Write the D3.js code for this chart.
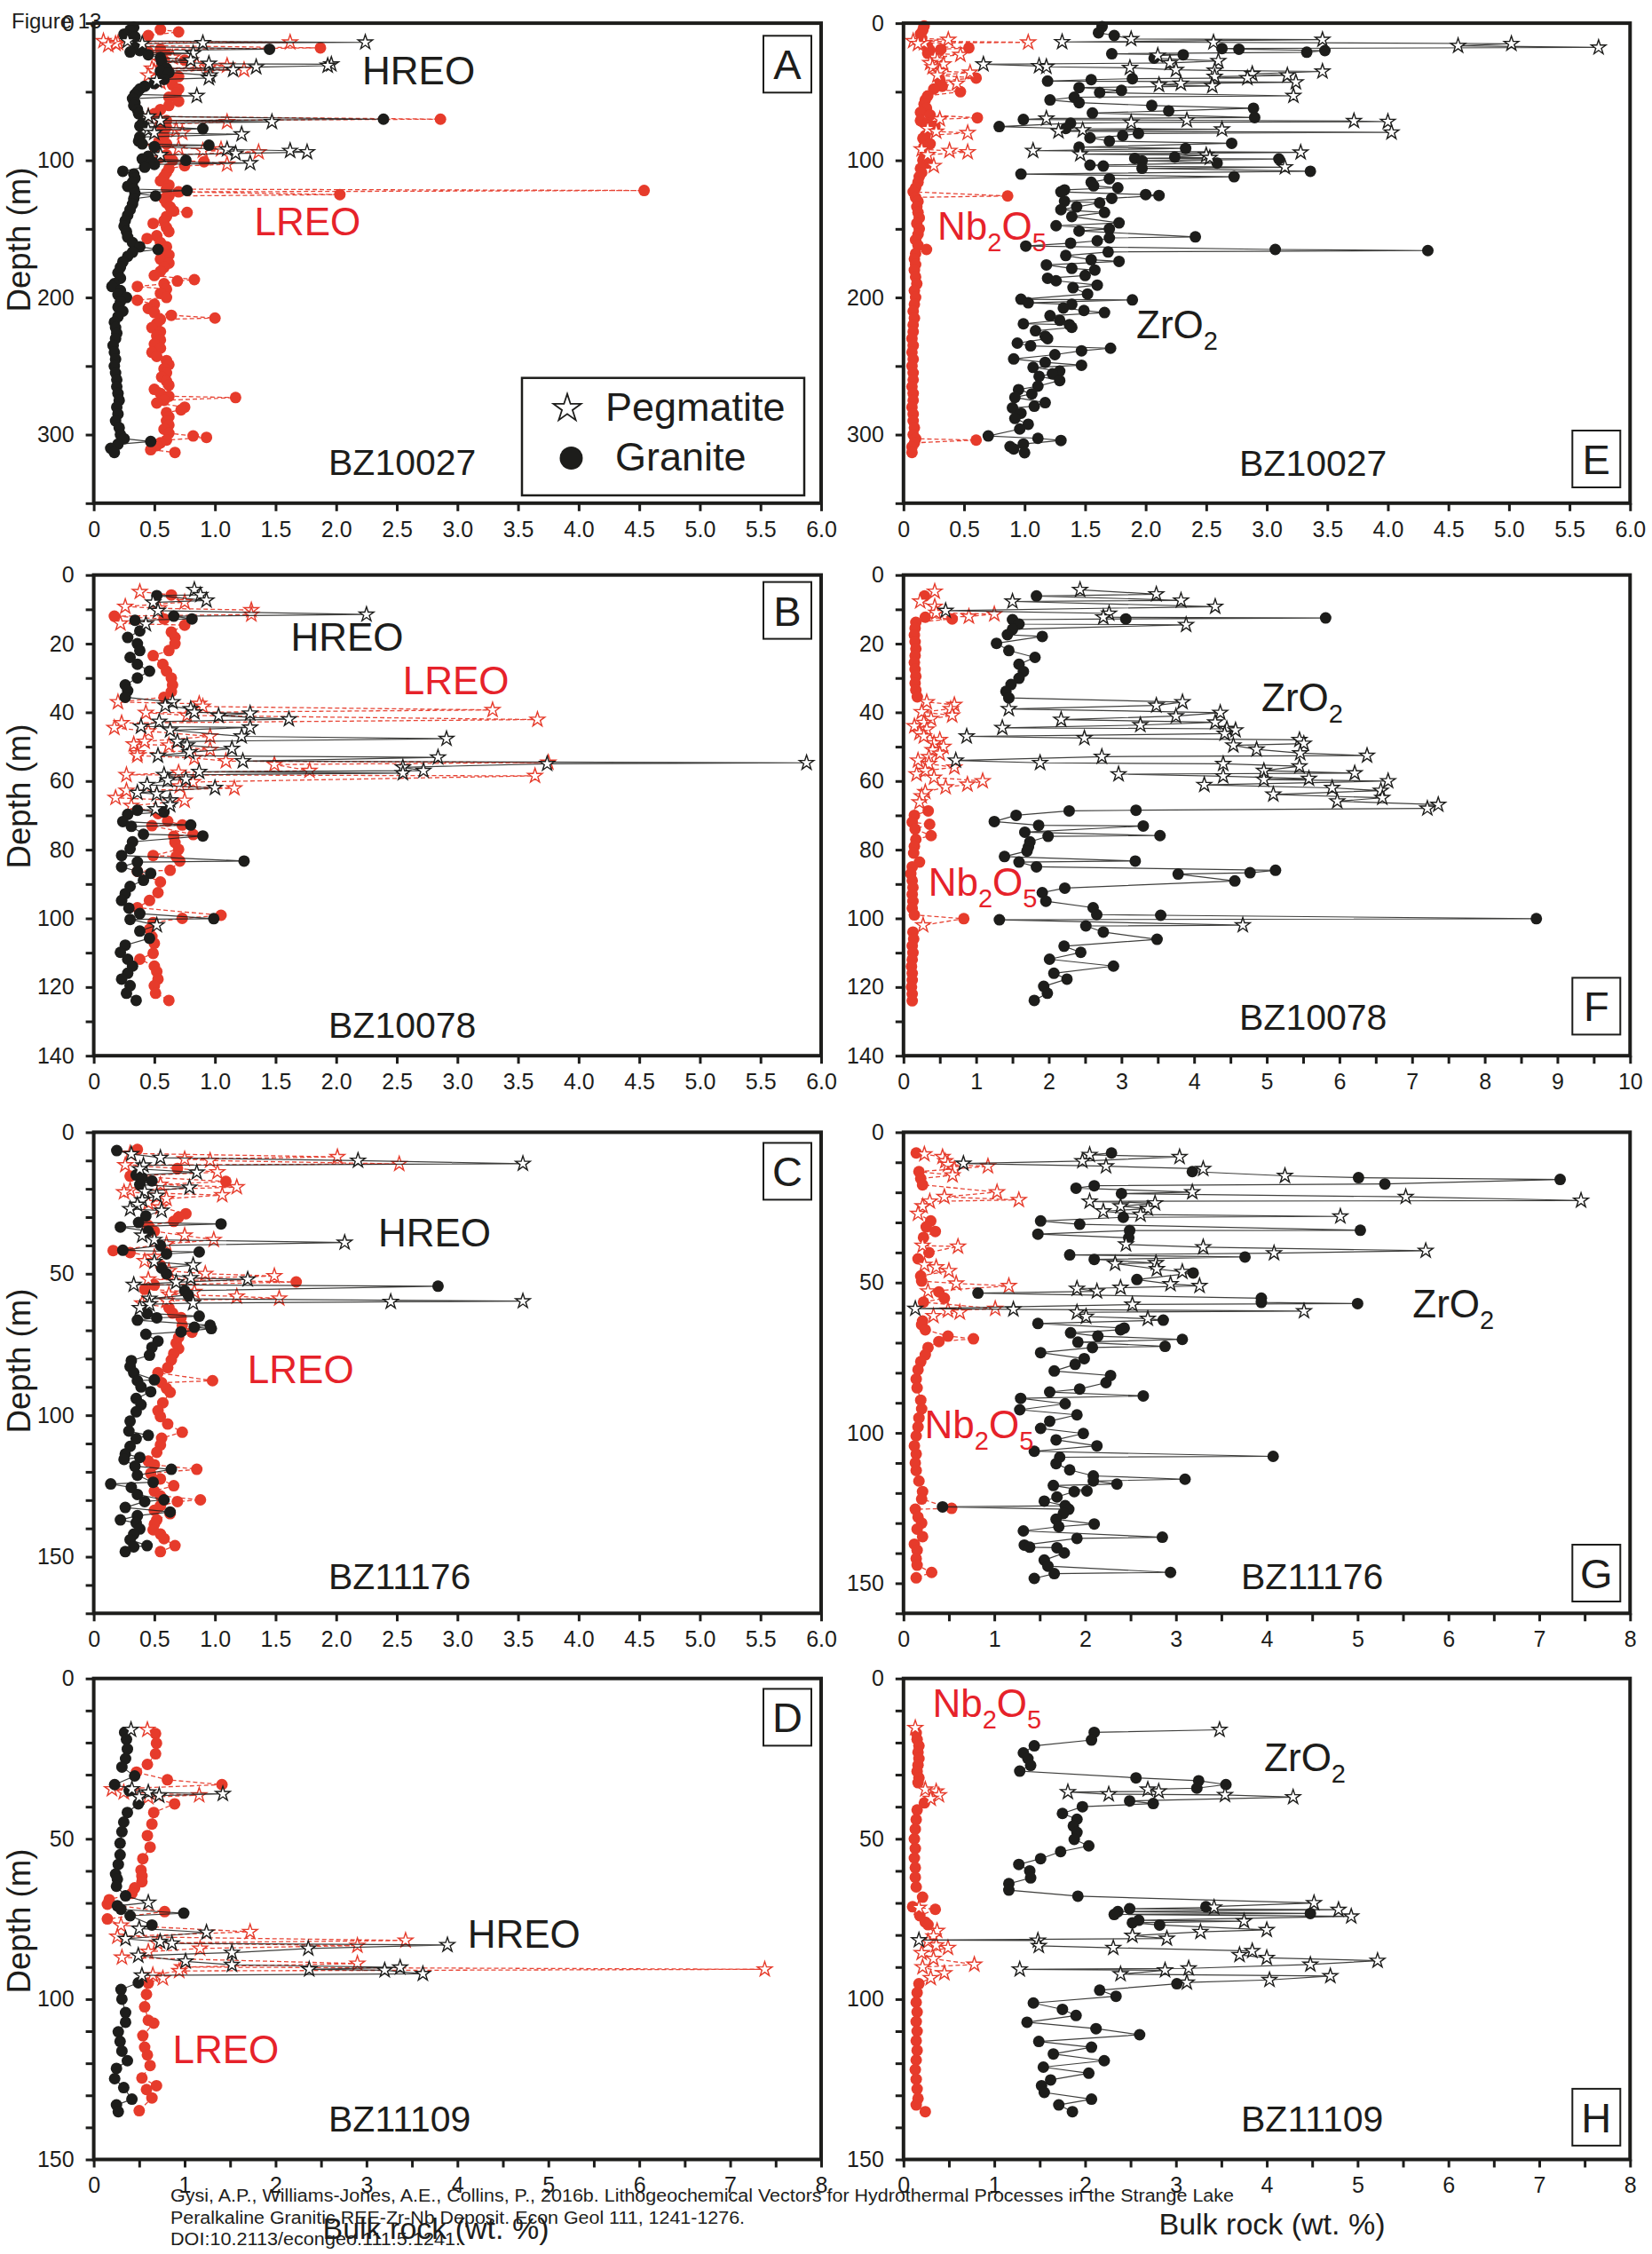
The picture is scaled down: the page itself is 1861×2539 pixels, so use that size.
<!DOCTYPE html>
<html>
<head>
<meta charset="utf-8">
<script src="https://cdn.jsdelivr.net/npm/d3@7"></script>
<style>
  html, body { margin: 0; padding: 0; background: #fff; }
  svg { display: block; font-family: "Liberation Sans", Arial, sans-serif; }
</style>
</head>
<body>
<script>
// Each record: [depth (m), bulk rock (wt.%), rock type]  'g' = granite, 'p' = pegmatite

// ---- BZ10027 ----
const hreoBZ10027 = [
  [3,0.33,'g'],[5,0.30,'g'],[8,0.25,'g'],[10,0.34,'g'],[13,0.28,'p'],[14,2.24,'p'],[14.5,0.9,'p'],[15,0.40,'p'],[17,0.35,'g'],[19,1.45,'g'],
  [20,0.38,'g'],[21,0.30,'g'],[22,0.82,'p'],[23,0.45,'g'],[25,0.55,'g'],[27,0.80,'p'],[28,0.56,'g'],[29.5,0.95,'p'],[30,1.96,'p'],[31,1.93,'p'],
  [32,1.34,'p'],[33,0.60,'g'],[34,1.15,'p'],[35,0.55,'g'],[36,0.62,'g'],[38,0.96,'p'],[40,0.95,'p'],[41,0.58,'g'],[42,0.52,'p'],[44,0.50,'g'],
  [46,0.42,'g'],[48,0.38,'g'],[50,0.36,'g'],[52,0.34,'g'],[53,0.85,'p'],[55,0.32,'g'],[58,0.34,'g'],[60,0.33,'g'],[63,0.36,'g'],[66,0.37,'g'],
  [68,0.45,'p'],[70,2.39,'g'],[71,0.55,'p'],[72,1.47,'p'],[73,0.40,'g'],[75,0.38,'g'],[77,0.90,'g'],[78,0.45,'p'],[80,0.50,'p'],[81,1.22,'p'],
  [83,0.38,'g'],[86,0.37,'g'],[88,0.40,'g'],[89,0.95,'g'],[90,0.50,'g'],[92,1.10,'p'],[93,1.62,'p'],[94,1.76,'p'],[95,1.17,'p'],[96,0.55,'p'],
  [97,0.45,'g'],[99,0.40,'g'],[100,0.76,'g'],[101,0.48,'g'],[102,1.29,'p'],[103,0.50,'g'],[105,0.42,'g'],[108,0.24,'g'],[110,0.33,'g'],[113,0.34,'g'],
  [116,0.32,'g'],[119,0.28,'g'],[121,0.33,'g'],[122,0.77,'g'],[124,0.34,'g'],[126,0.51,'g'],[128,0.33,'g'],[132,0.32,'g'],[136,0.30,'g'],[140,0.28,'g'],
  [144,0.26,'g'],[148,0.25,'g'],[152,0.27,'g'],[156,0.28,'g'],[160,0.32,'g'],[163,0.38,'g'],[165,0.53,'g'],[167,0.32,'g'],[170,0.28,'g'],[174,0.24,'g'],
  [178,0.22,'g'],[182,0.20,'g'],[186,0.22,'g'],[190,0.17,'g'],[192,0.15,'g'],[195,0.22,'g'],[198,0.20,'g'],[200,0.27,'g'],[203,0.22,'g'],[207,0.20,'g'],
  [210,0.24,'g'],[214,0.20,'g'],[218,0.17,'g'],[222,0.18,'g'],[226,0.19,'g'],[230,0.18,'g'],[235,0.16,'g'],[240,0.17,'g'],[245,0.18,'g'],[250,0.17,'g'],
  [255,0.18,'g'],[260,0.19,'g'],[265,0.19,'g'],[270,0.20,'g'],[275,0.21,'g'],[280,0.19,'g'],[285,0.20,'g'],[290,0.18,'g'],[295,0.21,'g'],[300,0.22,'g'],
  [303,0.25,'g'],[305,0.47,'g'],[307,0.20,'g'],[310,0.14,'g'],[313,0.17,'g']
];
const lreoBZ10027 = [
  [4.6,0.55,'g'],[6.4,0.70,'g'],[9,0.45,'g'],[13,0.08,'p'],[14,1.62,'p'],[14.5,0.20,'p'],[15,0.18,'p'],[16,0.12,'p'],[18,1.87,'g'],[19,0.55,'g'],
  [21,0.45,'g'],[23,0.60,'g'],[25,0.65,'p'],[27,0.75,'g'],[28,0.55,'p'],[30,0.85,'p'],[31,1.10,'p'],[32,0.95,'p'],[33,0.48,'p'],[34,1.24,'p'],
  [35,0.50,'p'],[37,0.60,'g'],[38,0.45,'p'],[39,0.70,'g'],[41,0.62,'g'],[43,0.55,'p'],[45,0.65,'g'],[48,0.70,'g'],[51,0.68,'g'],[54,0.62,'g'],
  [57,0.70,'g'],[60,0.62,'g'],[63,0.55,'g'],[66,0.50,'g'],[68,0.45,'p'],[70,2.86,'g'],[71,0.60,'g'],[72,1.10,'p'],[74,0.55,'g'],[76,0.60,'g'],
  [78,0.68,'p'],[80,0.73,'p'],[82,0.58,'g'],[85,0.55,'g'],[88,0.60,'g'],[90,0.50,'p'],[91,0.70,'p'],[92,1.05,'p'],[93,0.90,'p'],[94,1.36,'p'],
  [96,0.60,'g'],[98,0.55,'g'],[100,0.65,'g'],[101,0.91,'g'],[103,1.10,'p'],[104,0.75,'g'],[106,0.62,'g'],[109,0.60,'g'],[112,0.58,'g'],[115,0.55,'g'],
  [118,0.62,'g'],[121,0.60,'g'],[122,4.54,'g'],[123,0.70,'g'],[125,2.03,'g'],[126,0.62,'g'],[128,0.58,'g'],[131,0.60,'g'],[134,0.63,'g'],[137,0.66,'g'],
  [138,0.77,'g'],[141,0.60,'g'],[144,0.58,'g'],[146,0.49,'g'],[149,0.60,'g'],[152,0.62,'g'],[155,0.52,'g'],[157,0.44,'g'],[160,0.55,'g'],[163,0.60,'g'],
  [166,0.58,'g'],[169,0.62,'g'],[172,0.55,'g'],[175,0.62,'g'],[178,0.58,'g'],[181,0.55,'g'],[184,0.50,'g'],[187,0.83,'g'],[188,0.69,'g'],[190,0.58,'g'],
  [192,0.36,'g'],[194,0.60,'g'],[197,0.55,'g'],[200,0.60,'g'],[202,0.36,'g'],[205,0.50,'g'],[208,0.45,'g'],[211,0.50,'g'],[213,0.64,'g'],[215,1.00,'g'],
  [216,0.55,'g'],[219,0.52,'g'],[222,0.48,'g'],[225,0.55,'g'],[228,0.52,'g'],[231,0.55,'g'],[234,0.50,'g'],[237,0.55,'g'],[240,0.48,'g'],[243,0.52,'g'],
  [246,0.60,'g'],[249,0.62,'g'],[252,0.58,'g'],[255,0.60,'g'],[258,0.56,'g'],[261,0.60,'g'],[264,0.62,'g'],[267,0.50,'g'],[270,0.55,'g'],[272,0.62,'g'],
  [273,1.17,'g'],[275,0.58,'g'],[277,0.52,'g'],[280,0.75,'g'],[282,0.72,'g'],[284,0.60,'g'],[287,0.62,'g'],[290,0.60,'g'],[293,0.62,'g'],[296,0.58,'g'],
  [299,0.62,'g'],[301,0.82,'g'],[302,0.93,'g'],[304,0.60,'g'],[306,0.55,'g'],[308,0.52,'g'],[311,0.47,'g'],[313,0.67,'g']
];
const zrBZ10027 = [
  [2.6,1.64,'g'],[7,1.61,'g'],[9,1.74,'g'],[11.5,1.88,'p'],[12,3.46,'p'],[13.7,1.31,'p'],[14,2.56,'p'],[15,5.02,'p'],[16.5,4.58,'p'],[17.7,5.74,'p'],
  [18.5,2.63,'g'],[19,2.77,'g'],[20,3.48,'g'],[21.2,3.33,'g'],[22.3,1.72,'g'],[23,2.31,'g'],[23.6,2.10,'p'],[25.5,2.07,'g'],[27.5,2.60,'p'],[29,2.20,'p'],
  [30,0.66,'p'],[31.2,1.12,'p'],[31.8,1.18,'p'],[32.5,1.87,'p'],[34,2.25,'p'],[34.5,2.57,'p'],[35.2,3.46,'p'],[37,2.88,'p'],[38,3.17,'p'],[39,2.57,'p'],
  [40,2.84,'p'],[40.5,1.89,'g'],[41.2,1.55,'g'],[42.2,1.19,'g'],[43,3.24,'p'],[44,2.29,'p'],[45,2.11,'p'],[45.8,2.55,'p'],[47,1.45,'g'],[49,1.80,'g'],
  [50.6,1.62,'g'],[53,3.22,'p'],[54,1.41,'g'],[56,1.21,'g'],[58,1.45,'g'],[60,2.05,'g'],[62,2.89,'g'],[64,2.19,'g'],[65.5,1.56,'g'],[68.8,2.90,'g'],
  [69.5,1.18,'p'],[70.2,0.99,'g'],[70.8,2.34,'p'],[71.3,3.72,'p'],[71.8,4.00,'p'],[72.4,1.88,'p'],[73,1.38,'g'],[75.4,0.79,'g'],[76.8,1.34,'g'],[77.4,2.63,'p'],
  [78,1.48,'p'],[78.8,1.28,'p'],[79.6,4.03,'p'],[80.4,1.94,'g'],[82,1.81,'g'],[83.6,1.54,'g'],[86,1.70,'g'],[87.6,2.71,'g'],[90.4,1.45,'g'],[91.3,2.33,'g'],
  [93,1.07,'p'],[94.2,3.28,'p'],[95.5,1.46,'p'],[96.2,2.50,'p'],[97.6,2.24,'g'],[98.1,2.53,'p'],[98.6,1.91,'g'],[99,3.10,'g'],[100.4,1.97,'g'],[102,2.59,'g'],
  [103.5,1.54,'g'],[104.2,1.65,'g'],[105,3.15,'p'],[105.8,1.97,'g'],[108,3.36,'g'],[110,0.97,'g'],[112,2.73,'g'],[113.5,1.70,'g'],[116,1.55,'g'],[118.6,1.57,'g'],
  [120,1.77,'g'],[121.6,1.33,'g'],[123,1.30,'g'],[125,2.00,'g'],[125.6,2.11,'g'],[127.7,1.72,'g'],[129.8,1.33,'g'],[131,1.62,'g'],[134,1.43,'g'],[136,1.30,'g'],
  [138,1.66,'g'],[141,1.39,'g'],[145.6,1.78,'g'],[147.7,1.26,'g'],[150,1.70,'g'],[151.5,1.45,'g'],[155.8,2.41,'g'],[156.6,1.70,'g'],[158.7,1.60,'g'],[160.4,1.38,'g'],
  [162.5,1.01,'g'],[165,3.07,'g'],[165.8,4.33,'g'],[166.8,1.69,'g'],[169.4,1.34,'g'],[172.5,1.55,'g'],[173.7,1.78,'g'],[176.3,1.18,'g'],[178.8,1.39,'g'],[180,1.58,'g'],
  [184,1.50,'g'],[186,1.19,'g'],[187.8,1.26,'g'],[191,1.60,'g'],[192.9,1.40,'g'],[197.5,1.52,'g'],[201.3,0.97,'g'],[201.8,1.89,'g'],[203.9,1.03,'g'],[205,1.39,'g'],
  [207.7,1.32,'g'],[209.5,1.49,'g'],[211,1.66,'g'],[213.3,1.21,'g'],[216.7,1.29,'g'],[219.2,0.99,'g'],[219.8,1.37,'g'],[221.8,1.39,'g'],[224.3,1.09,'g'],[228.2,1.17,'g'],
  [230,1.19,'g'],[233.3,0.94,'g'],[235.3,1.05,'g'],[237,1.71,'g'],[238.9,1.47,'g'],[241.7,1.25,'g'],[244.8,0.91,'g'],[247.3,1.17,'g'],[249.4,1.47,'g'],[251,1.07,'g'],
  [253.7,1.29,'g'],[255.7,1.23,'g'],[257.5,1.12,'g'],[260.6,1.29,'g'],[264.7,1.11,'g'],[267.2,0.95,'g'],[270.3,1.06,'g'],[272.9,0.92,'g'],[276.7,1.17,'g'],[279.3,1.08,'g'],
  [280.5,0.90,'g'],[284.4,0.97,'g'],[288.2,0.92,'g'],[292.5,1.03,'g'],[295.9,0.96,'g'],[301,0.70,'g'],[302.7,1.11,'g'],[304.3,1.30,'g'],[306.9,0.99,'g'],[308.7,0.88,'g'],
  [310.5,0.91,'g'],[313.2,1.00,'g']
];
const nbBZ10027 = [
  [2,0.17,'g'],[5,0.16,'g'],[8,0.14,'g'],[11,0.15,'g'],[12,0.37,'p'],[13,0.08,'p'],[14,1.03,'p'],[14.5,0.17,'p'],[15,0.12,'p'],[17,0.20,'g'],
  [18,0.54,'g'],[19,0.31,'g'],[20,0.22,'g'],[22,0.20,'g'],[23,0.47,'p'],[25,0.26,'p'],[27,0.28,'p'],[29,0.22,'p'],[30,0.33,'p'],[32,0.24,'p'],
  [35,0.30,'p'],[36,0.55,'p'],[38,0.28,'p'],[40,0.60,'g'],[42,0.30,'g'],[44,0.44,'p'],[46,0.32,'g'],[48,0.25,'g'],[50,0.47,'g'],[53,0.20,'g'],
  [56,0.18,'g'],[59,0.17,'g'],[62,0.19,'g'],[65,0.14,'g'],[67,0.22,'g'],[69,0.61,'g'],[70,0.30,'p'],[71,0.14,'g'],[73,0.20,'g'],[75,0.26,'g'],
  [77,0.20,'p'],[79,0.27,'p'],[80,0.53,'p'],[82,0.18,'g'],[84,0.16,'g'],[86,0.18,'g'],[88,0.22,'g'],[90,0.17,'g'],[92,0.15,'p'],[93,0.38,'p'],
  [94,0.53,'p'],[96,0.20,'p'],[98,0.17,'g'],[100,0.16,'g'],[102,0.20,'g'],[104,0.25,'p'],[106,0.14,'g'],[109,0.15,'g'],[112,0.13,'g'],[116,0.12,'g'],
  [120,0.10,'g'],[123,0.08,'g'],[126,0.86,'g'],[127,0.10,'g'],[130,0.12,'g'],[134,0.11,'g'],[138,0.12,'g'],[142,0.13,'g'],[146,0.11,'g'],[150,0.13,'g'],
  [154,0.12,'g'],[158,0.10,'g'],[162,0.12,'g'],[165,0.19,'g'],[168,0.10,'g'],[172,0.09,'g'],[176,0.10,'g'],[180,0.09,'g'],[185,0.10,'g'],[190,0.11,'g'],
  [195,0.09,'g'],[200,0.10,'g'],[205,0.09,'g'],[210,0.08,'g'],[215,0.09,'g'],[220,0.08,'g'],[225,0.08,'g'],[230,0.07,'g'],[235,0.08,'g'],[240,0.07,'g'],
  [245,0.08,'g'],[250,0.07,'g'],[255,0.08,'g'],[260,0.08,'g'],[265,0.07,'g'],[270,0.08,'g'],[275,0.08,'g'],[280,0.07,'g'],[285,0.08,'g'],[290,0.08,'g'],
  [295,0.09,'g'],[300,0.08,'g'],[303,0.10,'g'],[304,0.60,'g'],[306,0.09,'g'],[309,0.07,'g'],[313,0.07,'g']
];

// ---- BZ10078 ----
const hreoBZ10078 = [
  [4.3,0.83,'p'],[5.8,0.88,'p'],[6,0.52,'g'],[7.4,0.93,'p'],[8,0.49,'p'],[10.4,0.53,'p'],[11.5,2.25,'p'],[12,0.66,'g'],[12.8,0.81,'g'],[13.2,0.34,'g'],
  [14.3,0.43,'p'],[16.3,0.38,'g'],[18.2,0.28,'g'],[20,0.36,'g'],[22,0.38,'g'],[24,0.30,'g'],[26,0.36,'g'],[28,0.46,'g'],[30,0.36,'g'],[32,0.26,'g'],
  [33.7,0.28,'g'],[35.6,0.26,'g'],[37,0.65,'p'],[38,0.59,'p'],[39,0.80,'p'],[40,0.83,'p'],[40.3,1.29,'p'],[41,1.03,'p'],[42,1.61,'p'],[42.7,0.54,'p'],
  [44.1,0.39,'p'],[44.4,1.29,'p'],[45.2,0.63,'p'],[47,1.22,'p'],[47.7,2.91,'p'],[48.5,0.69,'p'],[49.6,0.77,'p'],[50.6,1.14,'p'],[51.6,0.79,'p'],[52.6,0.53,'p'],
  [53.1,2.84,'p'],[54.2,1.23,'p'],[54.7,5.88,'p'],[55,3.74,'p'],[56,2.55,'p'],[57,2.72,'p'],[57.3,0.87,'p'],[57.7,2.55,'p'],[58.2,0.58,'p'],[59.5,0.76,'p'],
  [59.8,0.61,'p'],[61.1,0.44,'p'],[62,1.00,'p'],[63.4,0.36,'p'],[63.8,0.52,'p'],[65.6,0.63,'p'],[67,0.63,'p'],[68.2,0.51,'p'],[68.5,0.36,'g'],[69,0.58,'g'],
  [69.7,0.28,'g'],[71.8,0.24,'g'],[72.8,0.80,'g'],[73.2,0.31,'g'],[75.5,0.41,'g'],[76,0.90,'g'],[77.7,0.32,'g'],[79.7,0.30,'g'],[81.7,0.23,'g'],[83.3,1.24,'g'],
  [83.6,0.36,'g'],[85,0.23,'g'],[86.3,0.36,'g'],[86.9,0.47,'g'],[88.9,0.41,'g'],[90.7,0.30,'g'],[92.8,0.26,'g'],[94.8,0.23,'g'],[97,0.29,'g'],[98.6,0.38,'g'],
  [100.1,0.99,'g'],[100.3,0.30,'g'],[102,0.52,'p'],[103.7,0.38,'g'],[105.8,0.46,'g'],[107.8,0.26,'g'],[109.9,0.22,'g'],[111.9,0.28,'g'],[113.9,0.32,'g'],[116,0.28,'g'],
  [117.7,0.23,'g'],[119.6,0.30,'g'],[121.8,0.27,'g'],[123.9,0.35,'g']
];
const lreoBZ10078 = [
  [4.9,0.38,'p'],[5.8,0.64,'g'],[7.9,0.75,'p'],[9.2,0.26,'p'],[9.7,0.54,'p'],[10.2,1.30,'p'],[11.5,1.30,'p'],[12,0.17,'g'],[12.8,0.58,'g'],[14.1,0.22,'p'],
  [14.6,0.75,'g'],[16.6,0.64,'g'],[18.2,0.67,'g'],[20,0.67,'g'],[22,0.62,'g'],[23.5,0.49,'g'],[26,0.57,'g'],[28,0.60,'g'],[30,0.64,'g'],[32,0.65,'g'],
  [34,0.64,'g'],[35.6,0.58,'g'],[37,0.20,'p'],[37.5,0.87,'p'],[38.3,0.90,'p'],[39.3,3.29,'p'],[40.1,0.43,'p'],[40.9,0.77,'p'],[42.1,3.66,'p'],[43.1,0.23,'p'],
  [44.5,0.17,'p'],[45.5,0.45,'p'],[47,0.96,'p'],[48.5,0.42,'p'],[49.3,0.33,'p'],[49.6,0.62,'p'],[50.9,0.96,'p'],[51.9,0.36,'p'],[52.6,0.36,'p'],[53.3,0.83,'p'],
  [54.2,1.09,'p'],[54.6,3.75,'p'],[55.2,1.49,'p'],[57,1.78,'p'],[57.5,0.70,'p'],[58.2,0.27,'p'],[58.5,3.64,'p'],[60.3,0.82,'p'],[61.5,0.71,'p'],[62.1,1.16,'p'],
  [62.8,0.27,'p'],[64.9,0.18,'p'],[65.7,0.75,'p'],[67.2,0.31,'p'],[69.5,0.53,'g'],[71.7,0.61,'g'],[72.8,0.73,'g'],[73,0.48,'g'],[75.6,0.82,'g'],[76.1,0.66,'g'],
  [77.9,0.67,'g'],[79.9,0.70,'g'],[81.7,0.49,'g'],[82,0.68,'g'],[83.3,0.71,'g'],[86,0.63,'g'],[86.3,0.36,'g'],[89.4,0.55,'g'],[92.5,0.53,'g'],[94.8,0.46,'g'],
  [96.9,0.36,'g'],[99.1,1.05,'g'],[100,0.73,'g'],[101.2,0.49,'g'],[103.2,0.46,'g'],[105.3,0.48,'g'],[107.3,0.50,'g'],[110.2,0.49,'g'],[111.9,0.38,'g'],[113.9,0.50,'g'],
  [115.5,0.52,'g'],[117.7,0.53,'g'],[119.6,0.50,'g'],[121.8,0.51,'g'],[123.9,0.62,'g']
];
const zrBZ10078 = [
  [4.3,2.43,'p'],[5.6,3.48,'p'],[6.1,1.83,'g'],[7.4,3.82,'p'],[7.7,1.50,'p'],[9.2,4.29,'p'],[10.4,0.58,'p'],[11.2,2.83,'p'],[12.3,2.75,'p'],[12.5,5.81,'g'],
  [12.8,3.06,'g'],[13,1.50,'g'],[14.3,1.59,'g'],[14.5,3.89,'p'],[15.8,1.50,'g'],[17.4,1.43,'g'],[17.9,1.91,'g'],[19.9,1.28,'g'],[22,1.45,'g'],[24,1.81,'g'],
  [26,1.59,'g'],[28.1,1.65,'g'],[30.1,1.59,'g'],[31.9,1.48,'g'],[33.9,1.41,'g'],[35.8,1.45,'g'],[37,3.84,'p'],[38,3.48,'p'],[39,1.45,'p'],[40.1,4.36,'p'],
  [41.1,3.75,'p'],[42.1,2.17,'p'],[42.9,4.29,'p'],[43.7,3.26,'p'],[44.5,1.36,'p'],[44.8,4.45,'p'],[45.2,4.57,'p'],[46.2,4.42,'p'],[47,0.87,'p'],[47.5,2.49,'p'],
  [48,5.45,'p'],[49.1,5.51,'p'],[49.6,4.54,'p'],[50.8,4.86,'p'],[51.9,5.46,'p'],[52.6,6.38,'p'],[52.9,2.73,'p'],[54,0.72,'p'],[54.7,1.88,'p'],[55,4.40,'p'],
  [55.7,5.45,'p'],[57,4.96,'p'],[57.7,6.21,'p'],[58,2.96,'p'],[58.6,4.40,'p'],[59.3,5.58,'p'],[59.6,4.96,'p'],[60,6.67,'p'],[61.1,4.14,'p'],[62,5.90,'p'],
  [62.8,6.57,'p'],[63.9,5.09,'p'],[64.9,6.59,'p'],[65.9,5.97,'p'],[66.9,7.36,'p'],[68,7.21,'p'],[68.5,3.20,'g'],[68.7,2.28,'g'],[70,1.55,'g'],[71.8,1.25,'g'],
  [72.9,1.86,'g'],[73.1,3.30,'g'],[74.9,1.67,'g'],[75.9,3.53,'g'],[76.1,1.99,'g'],[77.7,1.74,'g'],[79.2,1.72,'g'],[80.4,1.70,'g'],[82,1.39,'g'],[83.3,3.19,'g'],
  [83.6,1.59,'g'],[85,1.83,'g'],[86,5.12,'g'],[86.7,4.77,'g'],[87.1,3.78,'g'],[89.1,4.56,'g'],[91.2,2.22,'g'],[92.5,1.91,'g'],[95,1.96,'g'],[96.9,2.61,'g'],
  [98.9,2.66,'g'],[99.1,3.54,'g'],[100.1,8.71,'g'],[100.4,1.32,'g'],[102,4.67,'p'],[102.2,2.51,'g'],[104,2.75,'g'],[106.1,3.49,'g'],[108.1,2.21,'g'],[109.9,2.44,'g'],
  [111.9,2.01,'g'],[113.9,2.89,'g'],[116,2.07,'g'],[117.7,2.25,'g'],[119.8,1.93,'g'],[121.8,1.98,'g'],[123.9,1.80,'g']
];
const nbBZ10078 = [
  [4.8,0.43,'p'],[6.1,0.29,'g'],[7.7,0.23,'p'],[9.2,0.43,'p'],[11,0.45,'p'],[11.4,1.25,'p'],[12.1,0.90,'p'],[12.3,0.30,'g'],[12.8,0.67,'g'],[13.8,0.17,'g'],
  [15.5,0.16,'g'],[17.5,0.15,'g'],[19.5,0.16,'g'],[21.5,0.17,'g'],[23.5,0.16,'g'],[25.5,0.15,'g'],[27.5,0.16,'g'],[29.5,0.17,'g'],[31.5,0.16,'g'],[33.5,0.17,'g'],
  [35.5,0.19,'g'],[37,0.32,'p'],[37.8,0.70,'p'],[39,0.65,'p'],[39.9,0.25,'p'],[40.9,0.67,'p'],[41.9,0.38,'p'],[43,0.28,'p'],[44,0.15,'p'],[45,0.32,'p'],
  [46,0.22,'p'],[47,0.28,'p'],[48,0.50,'p'],[49,0.42,'p'],[50,0.55,'p'],[51,0.40,'p'],[52,0.50,'p'],[53,0.35,'p'],[54,0.20,'p'],[55,0.35,'p'],
  [56,0.70,'p'],[57,0.30,'p'],[58,0.18,'p'],[59,0.42,'p'],[60,1.09,'p'],[61,0.88,'p'],[61.8,0.58,'p'],[63.2,0.30,'p'],[64.4,0.25,'p'],[66.2,0.22,'p'],
  [68.7,0.34,'g'],[70,0.15,'g'],[72,0.12,'g'],[72.6,0.36,'g'],[74,0.16,'g'],[75.9,0.38,'g'],[77,0.17,'g'],[79,0.15,'g'],[81,0.14,'g'],[83.6,0.22,'g'],
  [85,0.12,'g'],[87,0.10,'g'],[89,0.12,'g'],[91,0.13,'g'],[93,0.12,'g'],[95,0.13,'g'],[97,0.12,'g'],[99,0.15,'g'],[100.1,0.83,'g'],[102,0.27,'p'],
  [104,0.13,'g'],[106,0.14,'g'],[108,0.12,'g'],[110,0.13,'g'],[112,0.12,'g'],[114,0.11,'g'],[116,0.12,'g'],[118,0.12,'g'],[120,0.11,'g'],[122,0.12,'g'],
  [124,0.12,'g']
];

// ---- BZ11176 ----
const hreoBZ11176 = [
  [6.5,0.19,'g'],[7.7,0.31,'p'],[9,0.55,'p'],[10,2.18,'p'],[11.1,3.54,'p'],[11.7,0.41,'p'],[13,0.38,'p'],[14.2,0.85,'p'],[15.1,0.35,'g'],[16.1,0.40,'g'],
  [17.2,0.48,'g'],[18.5,0.38,'g'],[19.5,0.79,'p'],[21,0.42,'p'],[22.4,0.52,'p'],[24,0.40,'p'],[25.6,0.36,'p'],[27.1,0.30,'p'],[27.7,0.56,'p'],[29.6,0.43,'g'],
  [31.9,0.37,'g'],[32.4,1.05,'g'],[33.5,0.22,'g'],[35,0.45,'g'],[36.5,0.40,'p'],[38,0.50,'p'],[39,2.07,'p'],[40,0.55,'g'],[41.7,0.24,'g'],[42.3,0.87,'g'],
  [43,0.60,'g'],[45.8,0.50,'p'],[47,0.82,'p'],[48,0.56,'g'],[50,0.60,'g'],[51.5,0.80,'p'],[52,1.27,'p'],[53,0.68,'p'],[53.9,0.33,'p'],[54.4,2.84,'g'],
  [56,0.75,'g'],[57.5,0.78,'g'],[58.8,0.46,'p'],[59.7,3.54,'p'],[59.9,2.45,'p'],[60.4,0.82,'p'],[60.8,0.46,'p'],[62.1,0.38,'p'],[64,0.44,'g'],[65,0.87,'g'],
  [65.6,0.52,'g'],[66.4,0.36,'g'],[68.2,0.96,'g'],[68.9,0.83,'g'],[69.4,0.97,'g'],[70.5,0.72,'g'],[71.4,0.43,'g'],[73.8,0.53,'g'],[76,0.48,'g'],[78.8,0.46,'g'],
  [80.7,0.31,'g'],[82.8,0.30,'g'],[85,0.33,'g'],[87.5,0.50,'g'],[87.8,0.36,'g'],[90,0.39,'g'],[91.7,0.47,'g'],[94.1,0.35,'g'],[96.3,0.39,'g'],[98.8,0.35,'g'],
  [102.1,0.30,'g'],[105.6,0.29,'g'],[107.1,0.45,'g'],[108.3,0.35,'g'],[111,0.30,'g'],[113.7,0.26,'g'],[114.9,0.38,'g'],[115.6,0.25,'g'],[118,0.34,'g'],[119.1,0.64,'g'],
  [121.2,0.36,'g'],[123.7,0.49,'g'],[124.3,0.14,'g'],[125.5,0.31,'g'],[128,0.36,'g'],[129.9,0.58,'g'],[130.5,0.42,'g'],[132.6,0.26,'g'],[134.2,0.63,'g'],[135.5,0.36,'g'],
  [137,0.22,'g'],[138,0.35,'g'],[140.2,0.38,'g'],[142,0.33,'g'],[144,0.30,'g'],[146.1,0.44,'g'],[146.5,0.33,'g'],[148.2,0.26,'g']
];
const lreoBZ11176 = [
  [6.1,0.36,'g'],[7.5,0.30,'p'],[8.7,2.01,'p'],[9.5,0.75,'p'],[10,0.96,'p'],[11.2,2.52,'p'],[11.6,0.26,'p'],[12.8,0.69,'g'],[14.1,1.02,'p'],[15.5,0.30,'g'],
  [17.4,1.09,'g'],[18.5,0.55,'p'],[19.4,1.18,'p'],[20.5,0.30,'p'],[21.2,0.25,'p'],[22.2,1.06,'p'],[23.5,0.60,'p'],[25,0.45,'p'],[26.5,0.55,'p'],[28.8,0.76,'g'],
  [30,0.70,'g'],[31.5,0.66,'g'],[33,0.45,'g'],[35,0.50,'g'],[36.5,0.75,'p'],[38,0.99,'p'],[39.5,0.60,'p'],[41.8,0.16,'g'],[42.5,0.30,'g'],[44,0.50,'p'],
  [45.5,0.42,'p'],[47,0.55,'g'],[49,0.62,'p'],[50,0.92,'p'],[50.8,1.49,'p'],[52,0.45,'p'],[52.9,1.67,'g'],[54,0.50,'g'],[55.5,0.42,'g'],[56.4,0.83,'p'],
  [57.3,0.62,'p'],[58,1.18,'p'],[58.7,1.53,'p'],[59.5,0.60,'p'],[60.5,0.40,'p'],[62,0.62,'g'],[63.9,0.65,'g'],[65.5,0.72,'g'],[68.2,0.73,'g'],[70.7,0.81,'g'],
  [72.5,0.70,'g'],[74.5,0.68,'g'],[76.5,0.70,'g'],[78.2,0.66,'g'],[80.5,0.64,'g'],[83.2,0.61,'g'],[85,0.53,'g'],[87.8,0.98,'g'],[88.5,0.56,'g'],[90.5,0.60,'g'],
  [91.9,0.63,'g'],[95.6,0.57,'g'],[98.4,0.53,'g'],[100.5,0.55,'g'],[103.1,0.61,'g'],[106,0.73,'g'],[108.1,0.56,'g'],[110.5,0.55,'g'],[113.1,0.52,'g'],[116.2,0.45,'g'],
  [117.5,0.50,'g'],[119.1,0.85,'g'],[120.6,0.47,'g'],[122.5,0.55,'g'],[124.9,0.66,'g'],[126.8,0.50,'g'],[128.5,0.55,'g'],[129.9,0.88,'g'],[130.5,0.69,'g'],[132,0.55,'g'],
  [133.6,0.50,'g'],[134.8,0.63,'g'],[137,0.52,'g'],[138.5,0.50,'g'],[140.5,0.49,'g'],[142,0.55,'g'],[143.6,0.58,'g'],[146.1,0.67,'g'],[148.2,0.55,'g']
];
const zrBZ11176 = [
  [6.9,2.29,'g'],[7.5,2.05,'p'],[8.2,3.04,'p'],[9.6,1.97,'p'],[10.4,0.66,'p'],[11.3,2.23,'p'],[12.2,3.30,'p'],[13.1,3.18,'g'],[14.5,4.20,'p'],[15.1,5.01,'g'],
  [15.7,7.23,'g'],[17.2,5.30,'g'],[17.8,2.10,'g'],[18.6,1.90,'g'],[19.9,3.18,'p'],[20.4,2.40,'g'],[21.5,5.53,'p'],[22.7,7.46,'p'],[23,2.05,'p'],[23.6,2.77,'p'],
  [24.6,2.39,'p'],[25.4,2.69,'p'],[26.3,2.20,'p'],[27.4,2.61,'p'],[28,4.81,'p'],[28.3,2.42,'g'],[29.5,1.51,'g'],[30.6,1.94,'g'],[32.6,5.03,'g'],[32.7,2.49,'g'],
  [33.9,1.48,'g'],[35.1,2.48,'g'],[37.3,2.45,'p'],[38.2,3.30,'p'],[39.4,5.75,'p'],[40.2,4.08,'p'],[40.8,1.83,'g'],[41.5,3.76,'g'],[42.3,2.10,'g'],[43.5,2.78,'p'],
  [43.7,2.33,'p'],[45.5,2.79,'p'],[46.4,3.07,'p'],[46.8,3.19,'g'],[49,2.57,'g'],[50.5,2.94,'p'],[51.1,3.26,'p'],[51.7,2.39,'p'],[52,1.91,'p'],[52.9,2.13,'p'],
  [53.5,0.82,'g'],[55.2,3.94,'g'],[56.6,3.94,'g'],[57,5.00,'g'],[57.3,2.52,'p'],[58.7,0.13,'p'],[58.9,1.21,'p'],[59.5,4.41,'p'],[59.9,1.91,'p'],[61.3,2.01,'p'],
  [62,2.69,'p'],[62.5,2.86,'g'],[63.6,1.48,'g'],[65.1,2.43,'g'],[65.7,2.39,'g'],[66.7,1.84,'g'],[67.8,2.14,'g'],[68.9,3.07,'g'],[69.8,1.92,'g'],[71.2,2.88,'g'],
  [71.6,2.08,'g'],[73.3,1.51,'g'],[75.3,1.99,'g'],[77.2,1.89,'g'],[79.4,1.66,'g'],[80.9,2.28,'g'],[83.3,2.23,'g'],[85.4,1.94,'g'],[86.4,1.61,'g'],[87.7,2.64,'g'],
  [88.5,1.29,'g'],[90.3,1.78,'g'],[92.3,1.28,'g'],[94,1.91,'g'],[96.1,1.61,'g'],[98.5,1.51,'g'],[100.2,1.98,'g'],[102.3,1.68,'g'],[104.3,2.13,'g'],[106.1,1.44,'g'],
  [107.8,4.07,'g'],[108.1,1.72,'g'],[110.2,1.68,'g'],[112.3,1.83,'g'],[114.3,2.09,'g'],[115.4,3.10,'g'],[116,2.09,'g'],[117,2.35,'g'],[117.5,1.65,'g'],[119.3,2.02,'g'],
  [119.5,1.88,'g'],[121.3,1.69,'g'],[122.7,1.55,'g'],[124.2,1.78,'g'],[124.6,0.43,'g'],[125.4,1.82,'g'],[126.8,1.76,'g'],[128.7,1.68,'g'],[130.3,2.10,'g'],[131.2,1.71,'g'],
  [132.6,1.32,'g'],[134.7,2.85,'g'],[135.1,1.91,'g'],[137.3,1.33,'g'],[138,1.39,'g'],[138.2,1.69,'g'],[139.9,1.77,'g'],[142.3,1.55,'g'],[144.3,1.59,'g'],[146.4,2.94,'g'],
  [146.8,1.66,'g'],[148.4,1.44,'g']
];
const nbBZ11176 = [
  [6.9,0.14,'g'],[7.3,0.23,'p'],[8.2,0.43,'p'],[9.6,0.46,'p'],[10.8,0.49,'p'],[11.3,0.93,'p'],[12.2,0.56,'p'],[13.1,0.17,'g'],[14.3,0.54,'p'],[15.4,0.19,'g'],
  [17.5,0.21,'g'],[19.9,1.03,'p'],[21.5,0.45,'p'],[22.5,1.27,'p'],[23,0.29,'p'],[24.6,0.21,'p'],[27.1,0.16,'p'],[29.5,0.30,'g'],[31.5,0.25,'g'],[33,0.35,'g'],
  [35,0.22,'g'],[37.7,0.21,'p'],[38,0.60,'p'],[40,0.28,'g'],[42.1,0.16,'g'],[44.1,0.23,'p'],[44.9,0.36,'p'],[46.1,0.50,'p'],[47.8,0.19,'g'],[49.5,0.20,'g'],
  [50.3,0.58,'p'],[51.1,1.16,'p'],[52.9,0.27,'p'],[53.1,0.39,'g'],[55.2,0.45,'g'],[56.5,0.22,'g'],[58.7,1.01,'p'],[59.3,0.49,'p'],[59.9,0.62,'p'],[61.1,0.33,'p'],
  [62.8,0.21,'g'],[64,0.20,'g'],[65.7,0.24,'g'],[67.8,0.49,'g'],[68.7,0.77,'g'],[69.6,0.39,'g'],[71.6,0.27,'g'],[74,0.24,'g'],[76.3,0.19,'g'],[79,0.16,'g'],
  [82.1,0.14,'g'],[85,0.15,'g'],[89.1,0.19,'g'],[92,0.20,'g'],[95,0.17,'g'],[98,0.16,'g'],[101,0.14,'g'],[104.3,0.12,'g'],[107,0.14,'g'],[110,0.13,'g'],
  [112.5,0.14,'g'],[116,0.17,'g'],[119.5,0.21,'g'],[122,0.20,'g'],[125.1,0.53,'g'],[125.4,0.13,'g'],[128,0.16,'g'],[130,0.20,'g'],[132,0.15,'g'],[134.5,0.21,'g'],
  [137,0.12,'g'],[139,0.15,'g'],[141.8,0.14,'g'],[144,0.15,'g'],[146.4,0.31,'g'],[148.2,0.14,'g']
];

// ---- BZ11109 ----
const hreoBZ11109 = [
  [16,0.41,'p'],[16.8,0.34,'g'],[19,0.36,'g'],[22,0.37,'g'],[25,0.35,'g'],[27.6,0.31,'g'],[30.4,0.45,'g'],[33.1,0.23,'g'],[34.5,0.42,'p'],[35,0.39,'g'],
  [35.5,0.60,'p'],[36,1.42,'p'],[36.5,0.72,'p'],[37,0.50,'p'],[39.1,0.49,'g'],[41.8,0.37,'g'],[44.8,0.33,'g'],[47.8,0.31,'g'],[51.4,0.29,'g'],[55,0.29,'g'],
  [58,0.27,'g'],[61,0.24,'g'],[62.6,0.26,'g'],[64.8,0.25,'g'],[67.8,0.35,'g'],[69.9,0.60,'p'],[70.9,0.26,'g'],[72,0.30,'g'],[73.2,0.99,'g'],[74,0.40,'g'],
  [76.9,0.64,'g'],[78,0.50,'p'],[79.2,1.24,'p'],[81.2,0.35,'p'],[82.1,0.73,'p'],[82.6,0.86,'p'],[83.1,3.89,'p'],[84.2,2.36,'p'],[85.5,1.52,'p'],[86.4,0.49,'p'],
  [88.2,1.01,'p'],[89.3,1.52,'p'],[90.1,3.37,'p'],[90.7,2.37,'p'],[91,3.20,'p'],[92.1,3.62,'p'],[92.6,0.53,'p'],[94.9,0.49,'g'],[97,0.30,'g'],[100,0.31,'g'],
  [104.2,0.35,'g'],[107.2,0.35,'g'],[110.2,0.27,'g'],[113.2,0.29,'g'],[116.2,0.31,'g'],[119.2,0.37,'g'],[121.6,0.25,'g'],[124.8,0.23,'g'],[127.6,0.33,'g'],[131.2,0.42,'g'],
  [133,0.25,'g'],[135.1,0.27,'g']
];
const lreoBZ11109 = [
  [16,0.59,'p'],[17.2,0.68,'g'],[20.2,0.69,'g'],[23.5,0.68,'g'],[26.8,0.59,'g'],[29.2,0.47,'g'],[31.6,0.81,'g'],[33.1,1.41,'g'],[34.5,0.20,'p'],[35,0.42,'p'],
  [35.5,0.33,'p'],[36.4,1.16,'p'],[37,0.60,'p'],[39.1,0.89,'g'],[41.8,0.66,'g'],[45.4,0.64,'g'],[49,0.59,'g'],[52.6,0.62,'g'],[56.2,0.54,'g'],[59.8,0.52,'g'],
  [61.6,0.53,'g'],[63.4,0.53,'g'],[65.3,0.45,'g'],[67,0.42,'g'],[69,0.17,'g'],[70.4,0.15,'g'],[72.7,0.78,'g'],[75,0.15,'g'],[77,0.30,'p'],[79,1.72,'p'],
  [80.5,0.26,'p'],[81.7,3.43,'p'],[82.5,0.70,'p'],[83.3,2.90,'p'],[84.2,1.17,'p'],[85.2,0.60,'p'],[87,0.31,'p'],[88.9,2.90,'p'],[90,0.97,'p'],[90.7,7.38,'p'],
  [91.2,0.94,'p'],[92.5,0.65,'p'],[93.5,0.76,'p'],[95,0.60,'g'],[98.5,0.58,'g'],[102.4,0.56,'g'],[106.6,0.60,'g'],[107.5,0.66,'g'],[111.4,0.54,'g'],[115,0.56,'g'],
  [117.4,0.59,'g'],[120.7,0.62,'g'],[124.6,0.53,'g'],[127,0.69,'g'],[128.2,0.58,'g'],[130.8,0.64,'g'],[134.8,0.50,'g']
];
const zrBZ11109 = [
  [16,3.48,'p'],[16.8,2.10,'g'],[19.2,2.07,'g'],[21,1.44,'g'],[23.2,1.32,'g'],[25,1.37,'g'],[27.1,1.40,'g'],[28.9,1.28,'g'],[31,2.56,'g'],[31.9,3.25,'g'],
  [33.1,3.55,'g'],[34.2,3.23,'g'],[34.6,2.69,'p'],[35.2,2.81,'p'],[35.4,1.81,'p'],[36.1,2.26,'p'],[36.3,3.54,'p'],[37,4.29,'p'],[38.2,2.49,'g'],[39,2.75,'g'],
  [40,1.97,'g'],[42.1,1.75,'g'],[43.9,1.91,'g'],[46,1.87,'g'],[48,1.91,'g'],[50.2,1.88,'g'],[52.2,2.04,'g'],[54,1.73,'g'],[56.2,1.51,'g'],[58,1.27,'g'],
  [60,1.39,'g'],[62.2,1.40,'g'],[64,1.16,'g'],[66,1.16,'g'],[67.9,1.92,'g'],[70,4.52,'p'],[71.2,3.33,'g'],[71.4,3.42,'p'],[71.8,2.49,'g'],[72.1,4.79,'p'],
  [72.7,2.36,'g'],[73.3,4.48,'g'],[73.6,2.32,'g'],[74.2,4.93,'p'],[75.4,2.59,'g'],[75.7,3.75,'p'],[76.2,2.52,'g'],[76.9,2.82,'g'],[78.4,4.00,'p'],[79,3.27,'p'],
  [80.2,2.52,'p'],[81.1,2.90,'p'],[81.6,0.17,'p'],[81.7,1.48,'p'],[83.4,1.49,'p'],[84,2.31,'p'],[85,3.84,'p'],[86.2,3.70,'p'],[87.1,4.00,'p'],[88,5.22,'p'],
  [89.2,4.48,'p'],[90.4,3.14,'p'],[90.7,1.28,'p'],[91,2.88,'p'],[92.2,2.39,'p'],[92.8,4.70,'p'],[94,4.03,'p'],[94.8,3.12,'p'],[95.2,3.01,'g'],[97.2,2.16,'g'],
  [99.1,2.34,'g'],[101.2,1.43,'g'],[103.2,1.75,'g'],[105.1,1.90,'g'],[107.2,1.36,'g'],[109.2,2.12,'g'],[111.1,2.60,'g'],[113.2,1.49,'g'],[115,2.07,'g'],[117.1,1.65,'g'],
  [119.2,2.21,'g'],[121.2,1.54,'g'],[123.1,2.04,'g'],[125.2,1.62,'g'],[127,1.52,'g'],[129.1,1.55,'g'],[131.2,2.07,'g'],[133,1.71,'g'],[135.1,1.86,'g']
];
const nbBZ11109 = [
  [15.4,0.13,'p'],[17,0.14,'g'],[19,0.15,'g'],[21,0.17,'g'],[23,0.16,'g'],[25,0.17,'g'],[27,0.16,'g'],[29,0.15,'g'],[31,0.17,'g'],[32.5,0.16,'g'],
  [34.6,0.24,'p'],[35.2,0.36,'p'],[36.4,0.39,'p'],[37.5,0.30,'p'],[38.8,0.23,'g'],[41,0.15,'g'],[44,0.14,'g'],[47,0.13,'g'],[50,0.12,'g'],[53,0.13,'g'],
  [56,0.12,'g'],[59,0.13,'g'],[62,0.13,'g'],[65,0.14,'g'],[68.2,0.21,'g'],[71.2,0.10,'g'],[71.5,0.17,'p'],[72,0.35,'g'],[74,0.18,'g'],[76,0.24,'g'],
  [76.8,0.27,'g'],[78.7,0.37,'p'],[80.4,0.33,'p'],[82,0.27,'p'],[83.2,0.36,'p'],[84,0.49,'p'],[85.6,0.20,'p'],[87.4,0.33,'p'],[89.2,0.78,'p'],[90,0.21,'p'],
  [91.9,0.45,'p'],[93.4,0.30,'p'],[95.2,0.17,'g'],[98,0.15,'g'],[101,0.14,'g'],[104,0.15,'g'],[107,0.14,'g'],[110,0.15,'g'],[113,0.14,'g'],[116,0.15,'g'],
  [119,0.14,'g'],[122,0.13,'g'],[125,0.14,'g'],[128,0.15,'g'],[131,0.16,'g'],[133,0.14,'g'],[135.1,0.24,'g']
];

// Axis tick values
const ticksHalfTo6 = d3.range(0, 6.001, 0.5);
const ticksUnitTo8 = d3.range(0, 8.001, 1);
const ticksUnitTo10 = d3.range(0, 10.001, 1);
const depthTicks350 = [0, 100, 200, 300];
const depthTicks140 = [0, 20, 40, 60, 80, 100, 120, 140];
const depthTicks150 = [0, 50, 100, 150];

// Colours and layout
const INK = '#1d1d1b', RED = '#e63b2b', LABEL_RED = '#e6222a';
const COL_L = [105.6, 925], COL_R = [1017.8, 1836.3];
const ROW = { A: [26.1, 566.8], B: [647.7, 1189.2], C: [1275.4, 1817.3], D: [1890.7, 2432.5] };

const svg = d3.select('body').append('svg').attr('width', 1861).attr('height', 2539);

function fmtHalf(v) { return v === 0 ? '0' : v.toFixed(1); }

function drawSeries(g, data, x, y, color, dashed) {
  const line = d3.line().x(d => x(d[1])).y(d => y(d[0]));
  g.append('path').datum(data).attr('d', line)
    .attr('fill', 'none').attr('stroke', color)
    .attr('stroke-width', dashed ? 1.3 : 1.2)
    .attr('stroke-dasharray', dashed ? '5,3' : null)
    .attr('stroke-opacity', dashed ? 0.95 : 0.85);
  g.selectAll(null).data(data.filter(d => d[2] === 'g')).join('circle')
    .attr('cx', d => x(d[1])).attr('cy', d => y(d[0])).attr('r', 6.5)
    .attr('fill', color);
  const star = d3.symbol(d3.symbolStar, 85);
  g.selectAll(null).data(data.filter(d => d[2] === 'p')).join('path')
    .attr('d', star)
    .attr('transform', d => `translate(${x(d[1])},${y(d[0])})`)
    .attr('fill', '#fff').attr('stroke', color).attr('stroke-width', 1.4);
}

function chemLabel(g, x0, yb, parts, color) {
  const t = g.append('text').attr('x', x0).attr('y', yb).attr('fill', color)
    .attr('font-size', 44);
  let sub = false;
  parts.forEach(p => {
    const isSub = /^[0-9]$/.test(p);
    const ts = t.append('tspan').text(p);
    if (isSub) { ts.attr('font-size', 29).attr('dy', sub ? 0 : 13); sub = true; }
    else { ts.attr('dy', sub ? -13 : 0); sub = false; }
  });
}

function drawPanel(p) {
  const x = d3.scaleLinear().domain(p.xDomain).range(p.col);
  const y = d3.scaleLinear().domain(p.yDomain).range(p.row);
  const g = svg.append('g');

  drawSeries(g, p.red, x, y, RED, true);
  drawSeries(g, p.black, x, y, INK, false);

  // y axis: labelled majors plus unlabelled minors
  const yAll = d3.range(p.yDomain[0], p.yDomain[1] + 0.001, p.yMinorStep);
  const yAxis = d3.axisLeft(y).tickValues(yAll).tickSize(9).tickPadding(13)
    .tickFormat(d => p.yMajor.includes(d) ? String(d) : '');
  const ya = g.append('g').attr('transform', `translate(${p.col[0]},0)`).call(yAxis);

  const xAll = d3.range(p.xDomain[0], p.xDomain[1] + 0.001, p.xMinorStep);
  const xAxis = d3.axisBottom(x).tickValues(xAll).tickSize(9).tickPadding(11)
    .tickFormat(d => p.xMajor.some(m => Math.abs(m - d) < 1e-9) ? p.xFmt(d) : '');
  const xa = g.append('g').attr('transform', `translate(0,${p.row[1]})`).call(xAxis);

  [ya, xa].forEach(a => {
    a.select('.domain').remove();
    a.selectAll('.tick line').attr('stroke', INK).attr('stroke-width', 3);
    a.selectAll('.tick text').attr('fill', INK).attr('font-size', 25)
      .attr('font-family', '"Liberation Sans", Arial, sans-serif');
  });

  // frame
  g.append('rect').attr('x', p.col[0]).attr('y', p.row[0])
    .attr('width', p.col[1] - p.col[0]).attr('height', p.row[1] - p.row[0])
    .attr('fill', 'none').attr('stroke', INK).attr('stroke-width', 4);

  // panel letter
  const bx = p.col[1] - 65, by = p.letterY;
  g.append('rect').attr('x', bx).attr('y', by).attr('width', 54).attr('height', 64)
    .attr('fill', '#fff').attr('stroke', INK).attr('stroke-width', 2);
  g.append('text').attr('x', bx + 27).attr('y', by + 49).attr('text-anchor', 'middle')
    .attr('font-size', 47).attr('fill', INK).text(p.letter);

  // hole name
  g.append('text').attr('x', p.hole[0]).attr('y', p.hole[1]).attr('font-size', 41)
    .attr('fill', INK).text(p.holeName);

  // series names
  p.labels.forEach(l => chemLabel(g, l.x, l.y, l.parts, l.color));
}

const panels = [
  { letter: 'A', col: COL_L, row: ROW.A, xDomain: [0, 6], yDomain: [0, 350], xMinorStep: 0.5, xMajor: ticksHalfTo6, xFmt: fmtHalf,
    yMinorStep: 50, yMajor: depthTicks350, black: hreoBZ10027, red: lreoBZ10027, letterY: 40.3, holeName: 'BZ10027', hole: [370, 535],
    labels: [{ x: 408, y: 95, parts: ['HREO'], color: INK }, { x: 286.5, y: 265, parts: ['LREO'], color: LABEL_RED }] },
  { letter: 'E', col: COL_R, row: ROW.A, xDomain: [0, 6], yDomain: [0, 350], xMinorStep: 0.5, xMajor: ticksHalfTo6, xFmt: fmtHalf,
    yMinorStep: 50, yMajor: depthTicks350, black: zrBZ10027, red: nbBZ10027, letterY: 485, holeName: 'BZ10027', hole: [1396, 535.6],
    labels: [{ x: 1280, y: 381.4, parts: ['Zr', 'O', '2'], color: INK }, { x: 1056, y: 270, parts: ['Nb', '2', 'O', '5'], color: LABEL_RED }] },
  { letter: 'B', col: COL_L, row: ROW.B, xDomain: [0, 6], yDomain: [0, 140], xMinorStep: 0.5, xMajor: ticksHalfTo6, xFmt: fmtHalf,
    yMinorStep: 10, yMajor: depthTicks140, black: hreoBZ10078, red: lreoBZ10078, letterY: 655.6, holeName: 'BZ10078', hole: [370, 1169],
    labels: [{ x: 327.4, y: 733.4, parts: ['HREO'], color: INK }, { x: 453.7, y: 782, parts: ['LREO'], color: LABEL_RED }] },
  { letter: 'F', col: COL_R, row: ROW.B, xDomain: [0, 10], yDomain: [0, 140], xMinorStep: 0.5, xMajor: ticksUnitTo10, xFmt: d => String(d),
    yMinorStep: 10, yMajor: depthTicks140, black: zrBZ10078, red: nbBZ10078, letterY: 1101.4, holeName: 'BZ10078', hole: [1396, 1160],
    labels: [{ x: 1421, y: 800.6, parts: ['Zr', 'O', '2'], color: INK }, { x: 1045.7, y: 1008.5, parts: ['Nb', '2', 'O', '5'], color: LABEL_RED }] },
  { letter: 'C', col: COL_L, row: ROW.C, xDomain: [0, 6], yDomain: [0, 170], xMinorStep: 0.5, xMajor: ticksHalfTo6, xFmt: fmtHalf,
    yMinorStep: 10, yMajor: depthTicks150, black: hreoBZ11176, red: lreoBZ11176, letterY: 1287.4, holeName: 'BZ11176', hole: [370, 1790],
    labels: [{ x: 425.9, y: 1404, parts: ['HREO'], color: INK }, { x: 278.8, y: 1558.2, parts: ['LREO'], color: LABEL_RED }] },
  { letter: 'G', col: COL_R, row: ROW.C, xDomain: [0, 8], yDomain: [0, 160], xMinorStep: 0.5, xMajor: ticksUnitTo8, xFmt: d => String(d),
    yMinorStep: 10, yMajor: depthTicks150, black: zrBZ11176, red: nbBZ11176, letterY: 1740, holeName: 'BZ11176', hole: [1398, 1790],
    labels: [{ x: 1591.3, y: 1483.9, parts: ['Zr', 'O', '2'], color: INK }, { x: 1041.5, y: 1620.2, parts: ['Nb', '2', 'O', '5'], color: LABEL_RED }] },
  { letter: 'D', col: COL_L, row: ROW.D, xDomain: [0, 8], yDomain: [0, 150], xMinorStep: 0.5, xMajor: ticksUnitTo8, xFmt: d => String(d),
    yMinorStep: 10, yMajor: depthTicks150, black: hreoBZ11109, red: lreoBZ11109, letterY: 1902.4, holeName: 'BZ11109', hole: [370, 2400.5],
    labels: [{ x: 526.7, y: 2194.3, parts: ['HREO'], color: INK }, { x: 194.5, y: 2324.3, parts: ['LREO'], color: LABEL_RED }] },
  { letter: 'H', col: COL_R, row: ROW.D, xDomain: [0, 8], yDomain: [0, 150], xMinorStep: 0.5, xMajor: ticksUnitTo8, xFmt: d => String(d),
    yMinorStep: 10, yMajor: depthTicks150, black: zrBZ11109, red: nbBZ11109, letterY: 2352.9, holeName: 'BZ11109', hole: [1398, 2400.5],
    labels: [{ x: 1424.1, y: 1995.1, parts: ['Zr', 'O', '2'], color: INK }, { x: 1050.4, y: 1933.6, parts: ['Nb', '2', 'O', '5'], color: LABEL_RED }] }
];

panels.forEach(drawPanel);

// Legend (panel A)
const lg = svg.append('g');
lg.append('rect').attr('x', 588).attr('y', 425.7).attr('width', 318).attr('height', 132.3)
  .attr('fill', '#fff').attr('stroke', INK).attr('stroke-width', 2.5);
lg.append('path').attr('d', d3.symbol(d3.symbolStar, 300))
  .attr('transform', 'translate(639,460)').attr('fill', '#fff').attr('stroke', INK).attr('stroke-width', 1.8);
lg.append('text').attr('x', 682).attr('y', 474).attr('font-size', 45).attr('fill', INK).text('Pegmatite');
lg.append('circle').attr('cx', 643.5).attr('cy', 516).attr('r', 13).attr('fill', INK);
lg.append('text').attr('x', 693).attr('y', 530).attr('font-size', 45).attr('fill', INK).text('Granite');

// Axis titles
[[34, 270], [34, 897], [34, 1533], [34, 2164]].forEach(([tx, ty]) => {
  svg.append('text').attr('transform', `translate(${tx},${ty}) rotate(-90)`)
    .attr('text-anchor', 'middle').attr('font-size', 36).attr('fill', INK)
    .attr('textLength', 163).attr('lengthAdjust', 'spacingAndGlyphs').text('Depth (m)');
});
[[491, 2522], [1433, 2517]].forEach(([tx, ty]) => {
  svg.append('text').attr('x', tx).attr('y', ty).attr('text-anchor', 'middle')
    .attr('font-size', 34).attr('fill', INK).text('Bulk rock (wt. %)');
});

// Figure number and source
svg.append('text').attr('x', 13).attr('y', 32).attr('font-size', 24).attr('fill', INK).text('Figure 13');
const src = [
  ['Gysi, A.P., Williams-Jones, A.E., Collins, P., 2016b. Lithogeochemical Vectors for Hydrothermal Processes in the Strange Lake', 2480, 1198],
  ['Peralkaline Granitic REE-Zr-Nb Deposit. Econ Geol 111, 1241-1276.', 2505, 647],
  ['DOI:10.2113/econgeo.111.5.1241.', 2529, 327]
];
src.forEach(([t, yb, len]) => {
  svg.append('text').attr('x', 192).attr('y', yb).attr('font-size', 20).attr('fill', INK)
    .attr('textLength', len).attr('lengthAdjust', 'spacingAndGlyphs').text(t);
});
</script>
</body>
</html>
